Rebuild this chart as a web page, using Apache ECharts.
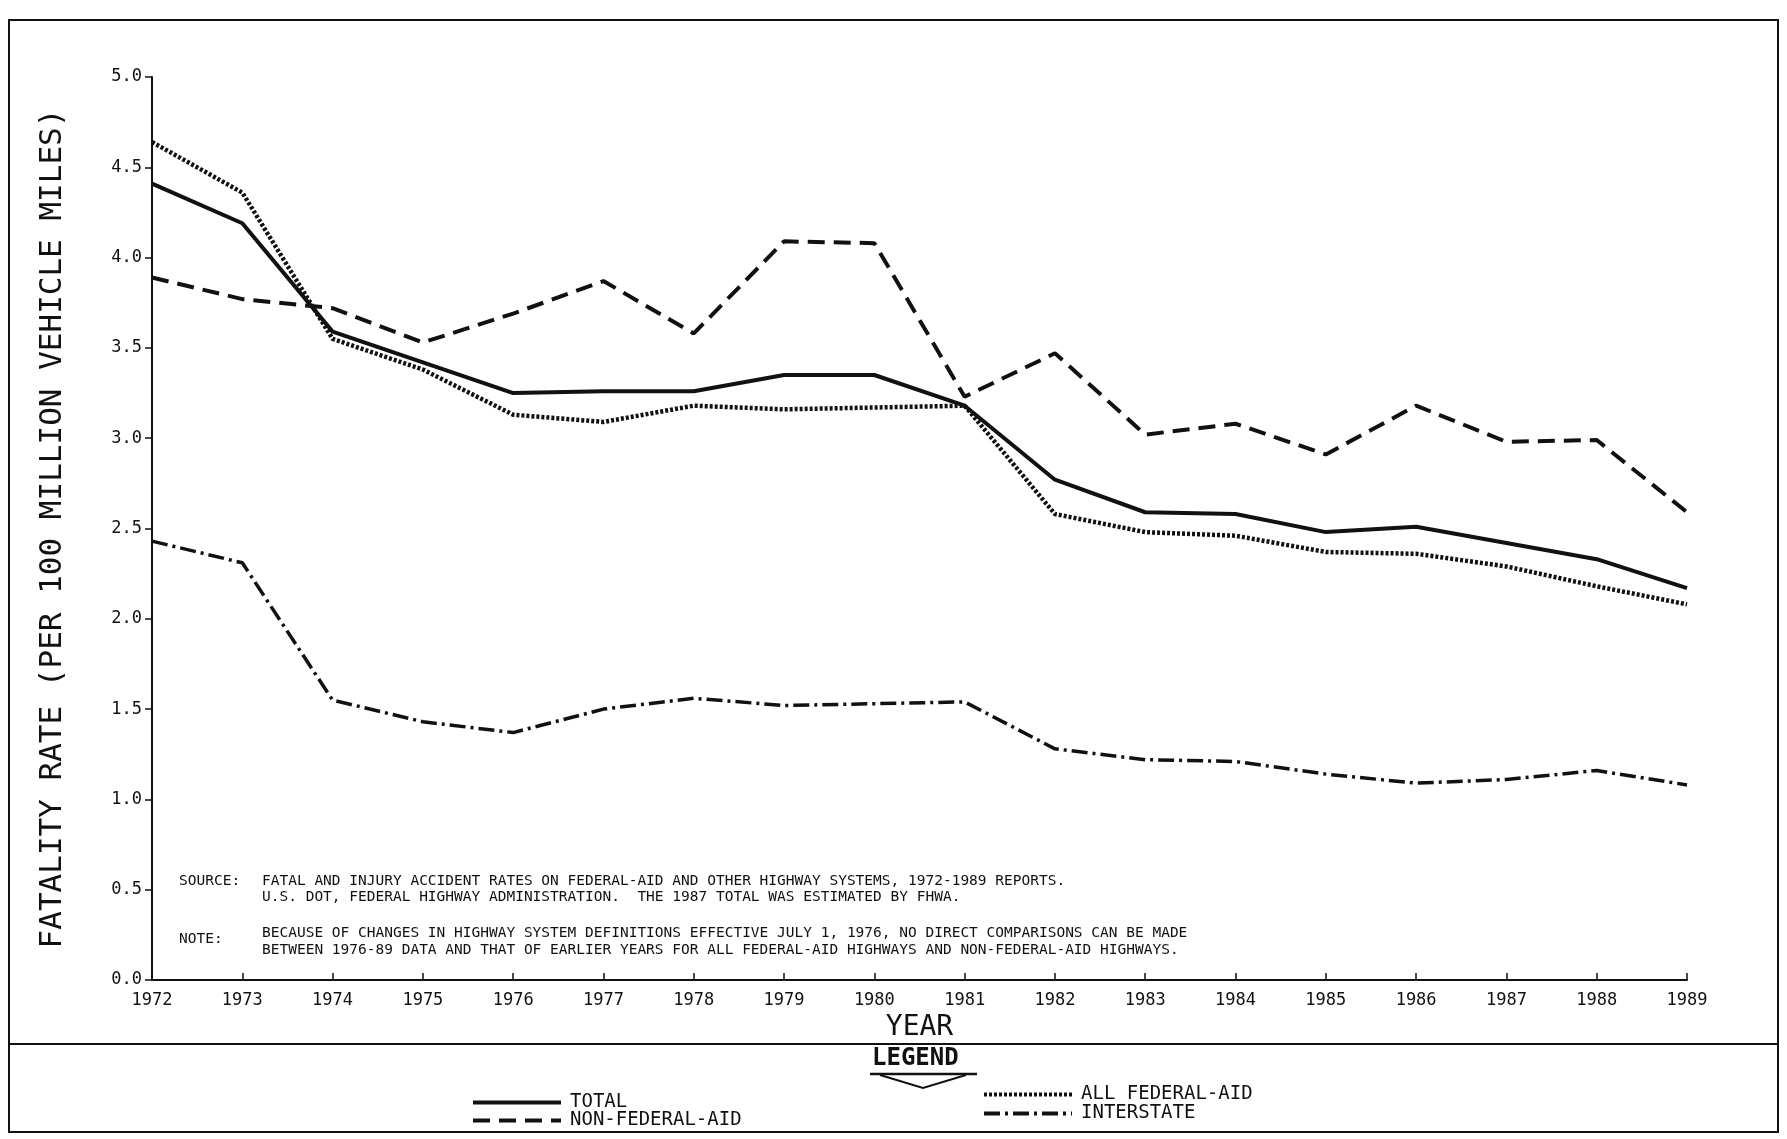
<!DOCTYPE html>
<html>
<head>
<meta charset="utf-8">
<title>Fatality rate</title>
<script src="https://cdn.jsdelivr.net/npm/echarts@6/dist/echarts.min.js"></script>
<style>
  html, body { margin: 0; padding: 0; background: #fff; }
  #chart { width: 1787px; height: 1139px; }
</style>
</head>
<body>
<div id="chart"></div>
<script>
// data
var years = ['1972', '1973', '1974', '1975', '1976', '1977', '1978', '1979', '1980',
  '1981', '1982', '1983', '1984', '1985', '1986', '1987', '1988', '1989']
var total = [4.41, 4.19, 3.59, 3.42, 3.25, 3.26, 3.26, 3.35, 3.35,
  3.18, 2.77, 2.59, 2.58, 2.48, 2.51, 2.42, 2.33, 2.17]
var allFederalAid = [4.64, 4.36, 3.55, 3.38, 3.13, 3.09, 3.18, 3.16, 3.17,
  3.18, 2.58, 2.48, 2.46, 2.37, 2.36, 2.29, 2.18, 2.08]
var nonFederalAid = [3.89, 3.77, 3.72, 3.53, 3.69, 3.87, 3.58, 4.09, 4.08,
  3.23, 3.47, 3.02, 3.08, 2.91, 3.18, 2.98, 2.99, 2.59]
var interstate = [2.43, 2.31, 1.55, 1.43, 1.37, 1.50, 1.56, 1.52, 1.53,
  1.54, 1.28, 1.22, 1.21, 1.14, 1.09, 1.11, 1.16, 1.08]
var yTicks = ['0.0', '0.5', '1.0', '1.5', '2.0', '2.5', '3.0', '3.5', '4.0', '4.5', '5.0']

var mono = '"DejaVu Sans Mono", monospace'
var ink = '#111'

var chart = echarts.init(document.getElementById('chart'))

function legendBox (name, left, top) {
  return {
    data: [name],
    left: left,
    top: top,
    orient: 'horizontal',
    itemWidth: 88,
    itemHeight: 14,
    itemGap: 0,
    padding: 0,
    selectedMode: false,
    itemStyle: { opacity: 0 },
    lineStyle: { width: 4 },
    textStyle: { fontFamily: mono, fontSize: 19, color: ink, padding: [0, 0, 0, 4] }
  }
}

var option = {
  backgroundColor: '#fff',
  animation: false,
  color: [ink, ink, ink, ink],
  grid: { left: 152, right: 100, top: 77, bottom: 159 },
  legend: [
    legendBox('TOTAL', 471, 1093),
    legendBox('NON-FEDERAL-AID', 471, 1111),
    legendBox('ALL FEDERAL-AID', 982, 1085),
    legendBox('INTERSTATE', 982, 1104)
  ],
  xAxis: {
    type: 'category',
    data: years,
    boundaryGap: false,
    name: 'YEAR',
    nameLocation: 'middle',
    nameGap: 34,
    nameTextStyle: { fontFamily: mono, fontSize: 28, color: ink },
    axisLine: { lineStyle: { color: ink, width: 2 } },
    axisTick: { inside: true, length: 7, lineStyle: { color: ink, width: 1.5 } },
    axisLabel: { fontFamily: mono, fontSize: 17, color: ink, margin: 12 },
    splitLine: { show: false }
  },
  yAxis: {
    type: 'value',
    min: 0,
    max: 5,
    interval: 0.5,
    name: 'FATALITY RATE (PER 100 MILLION VEHICLE MILES)',
    nameLocation: 'middle',
    nameGap: 84,
    nameRotate: 90,
    nameTextStyle: { fontFamily: mono, fontSize: 31, color: ink },
    axisLine: { show: true, lineStyle: { color: ink, width: 2 } },
    axisTick: { show: true, length: 7, lineStyle: { color: ink, width: 1.5 } },
    axisLabel: {
      fontFamily: mono, fontSize: 17, color: ink, margin: 10,
      formatter: function (v) { return yTicks[Math.round(v * 2)] }
    },
    splitLine: { show: false }
  },
  series: [
    {
      name: 'TOTAL',
      type: 'line',
      data: total,
      symbol: 'none',
      lineStyle: { color: ink, width: 4, type: 'solid' }
    },
    {
      name: 'NON-FEDERAL-AID',
      type: 'line',
      data: nonFederalAid,
      symbol: 'none',
      lineStyle: { color: ink, width: 4, type: [17, 9] }
    },
    {
      name: 'ALL FEDERAL-AID',
      type: 'line',
      data: allFederalAid,
      symbol: 'none',
      lineStyle: { color: ink, width: 4.5, type: [3, 2] }
    },
    {
      name: 'INTERSTATE',
      type: 'line',
      data: interstate,
      symbol: 'none',
      lineStyle: { color: ink, width: 3.5, type: [16, 5, 3, 5] }
    }
  ],
  graphic: [
    // outer frame and divider
    { type: 'rect', shape: { x: 9, y: 20, width: 1769, height: 1112 }, style: { fill: 'none', stroke: ink, lineWidth: 2 }, silent: true },
    { type: 'line', shape: { x1: 9, y1: 1044, x2: 1778, y2: 1044 }, style: { stroke: ink, lineWidth: 2 }, silent: true },
    // notes
    { type: 'text', left: 179, top: 874, style: { text: 'SOURCE:', font: '14.5px ' + mono, fill: ink } },
    { type: 'text', left: 262, top: 874, style: { text: 'FATAL AND INJURY ACCIDENT RATES ON FEDERAL-AID AND OTHER HIGHWAY SYSTEMS, 1972-1989 REPORTS.', font: '14.5px ' + mono, fill: ink } },
    { type: 'text', left: 262, top: 890, style: { text: 'U.S. DOT, FEDERAL HIGHWAY ADMINISTRATION.  THE 1987 TOTAL WAS ESTIMATED BY FHWA.', font: '14.5px ' + mono, fill: ink } },
    { type: 'text', left: 179, top: 932, style: { text: 'NOTE:', font: '14.5px ' + mono, fill: ink } },
    { type: 'text', left: 262, top: 926, style: { text: 'BECAUSE OF CHANGES IN HIGHWAY SYSTEM DEFINITIONS EFFECTIVE JULY 1, 1976, NO DIRECT COMPARISONS CAN BE MADE', font: '14.5px ' + mono, fill: ink } },
    { type: 'text', left: 262, top: 943, style: { text: 'BETWEEN 1976-89 DATA AND THAT OF EARLIER YEARS FOR ALL FEDERAL-AID HIGHWAYS AND NON-FEDERAL-AID HIGHWAYS.', font: '14.5px ' + mono, fill: ink } },
    // legend heading
    { type: 'text', left: 872, top: 1047, style: { text: 'LEGEND', font: 'bold 24px ' + mono, fill: ink } },
    { type: 'line', shape: { x1: 870, y1: 1074, x2: 977, y2: 1074 }, style: { stroke: ink, lineWidth: 2.5 }, silent: true },
    { type: 'polyline', shape: { points: [[880, 1075], [923, 1088], [966, 1075]] }, style: { stroke: ink, fill: 'none', lineWidth: 2 }, silent: true }
  ]
}

chart.setOption(option)
</script>
</body>
</html>
